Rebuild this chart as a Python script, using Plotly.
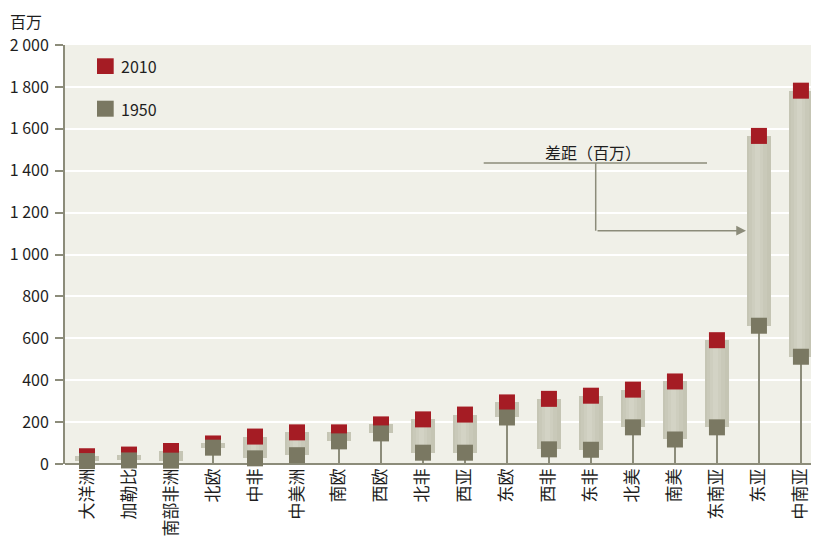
import plotly.graph_objects as go

regions = ["大洋洲", "加勒比", "南部非洲", "北欧", "中非", "中美洲", "南欧", "西欧", "北非",
           "西亚", "东欧", "西非", "东非", "北美", "南美", "东南亚", "东亚", "中南亚"]
pop_1950 = [14, 17, 16, 78, 27, 42, 108, 146, 54, 54, 222, 70, 68, 175, 117, 175, 660, 512]
pop_2010 = [37, 45, 62, 98, 131, 151, 151, 189, 213, 236, 294, 311, 326, 355, 394, 591, 1566, 1782]
ytick_vals = [0, 200, 400, 600, 800, 1000, 1200, 1400, 1600, 1800, 2000]
ytick_text = ["0", "200", "400", "600", "800", "1 000", "1 200", "1 400", "1 600", "1 800", "2 000"]

# the page body has an 8px margin, so the figure is drawn at (8, 8) in the window
OFF = 8
W, H = 819 - OFF, 544 - OFF
ML, MR, MT, MB = 65 - OFF, 0, 45 - OFF, 80
PW, PH = W - ML - MR, H - MT - MB

def px(xp):  # window pixel x -> paper
    return (xp - OFF - ML) / PW

def py(yp):  # window pixel y -> paper
    return (H - MB - (yp - OFF)) / PH

RED = "#A51C24"
DARK = "#7A7862"
AXIS = "#8C8C7A"
BG = "#F0F0E8"
FONT = "Noto Sans CJK SC"
TXT = "#1E1E1E"

x_idx = list(range(len(regions)))
gap = [b - a for a, b in zip(pop_1950, pop_2010)]

fig = go.Figure()

# stems from zero to the 1950 value
fig.add_trace(go.Bar(x=x_idx, y=pop_1950, base=0, width=0.035,
                     marker=dict(color=AXIS, line=dict(width=0)), hoverinfo="skip"))

# gap bars with a cylinder-like shading
for w, c, off in [(0.57, "#C5C5B4", 0.0), (0.42, "#C9C9B9", -0.02), (0.26, "#CECEBF", -0.03), (0.12, "#D3D3C5", -0.03)]:
    fig.add_trace(go.Bar(x=[i + off for i in x_idx], y=gap, base=pop_1950, width=w,
                         marker=dict(color=c, line=dict(width=0)), hoverinfo="skip"))

fig.add_trace(go.Scatter(x=x_idx, y=pop_2010, mode="markers", name="2010",
                         marker=dict(symbol="square", size=16, color=RED, line=dict(width=0)),
                         cliponaxis=False, hoverinfo="skip"))
fig.add_trace(go.Scatter(x=x_idx, y=pop_1950, mode="markers", name="1950",
                         marker=dict(symbol="square", size=16, color=DARK, line=dict(width=0)),
                         cliponaxis=False, hoverinfo="skip"))

shapes = []
annotations = []

# manual legend
for (y_top, y_bot, col, label, ty) in [(58.3, 74.0, RED, "2010", 66), (100.7, 116.7, DARK, "1950", 109)]:
    shapes.append(dict(type="rect", xref="paper", yref="paper",
                       x0=px(97), x1=px(113.7), y0=py(y_bot), y1=py(y_top),
                       fillcolor=col, line=dict(width=0), layer="above"))
    annotations.append(dict(text=label, xref="paper", yref="paper", x=px(119), y=py(ty),
                            xanchor="left", yanchor="middle", showarrow=False,
                            font=dict(family=FONT, size=16, color=TXT)))

# y-axis unit label
annotations.append(dict(text="百万", xref="paper", yref="paper", x=px(8), y=py(21),
                        xanchor="left", yanchor="middle", showarrow=False,
                        font=dict(family=FONT, size=16, color=TXT)))

# gap callout
shapes.append(dict(type="line", xref="paper", yref="paper", x0=px(483.7), x1=px(707),
                   y0=py(163), y1=py(163), line=dict(color=AXIS, width=1.5)))
shapes.append(dict(type="line", xref="paper", yref="paper", x0=px(595.7), x1=px(595.7),
                   y0=py(163), y1=py(230.7), line=dict(color=AXIS, width=1.5)))
annotations.append(dict(text="", xref="paper", yref="paper", x=px(746), y=py(230.7),
                        ax=-150, ay=0, showarrow=True, arrowhead=2, arrowsize=1.3,
                        arrowwidth=1.5, arrowcolor=AXIS))
annotations.append(dict(text="差距（百万）", xref="paper", yref="paper", x=px(593), y=py(152),
                        xanchor="center", yanchor="middle", showarrow=False,
                        font=dict(family=FONT, size=16, color=TXT)))

fig.update_layout(
    width=W, height=H,
    margin=dict(l=ML, r=MR, t=MT, b=MB, pad=0),
    paper_bgcolor="white", plot_bgcolor=BG,
    barmode="overlay", bargap=0,
    showlegend=False,
    font=dict(family=FONT, size=16, color=TXT),
    shapes=shapes, annotations=annotations,
    xaxis=dict(range=[-0.524, 17.43], tickvals=x_idx, ticktext=regions, tickangle=-90,
               showgrid=False, zeroline=False, showline=False, ticks="",
               tickfont=dict(family=FONT, size=17, color=TXT), fixedrange=True),
    yaxis=dict(range=[0, 2000], tickvals=ytick_vals, ticktext=ytick_text,
               showgrid=True, gridcolor="white", gridwidth=2, zeroline=True,
               zerolinecolor=AXIS, zerolinewidth=2,
               showline=True, linecolor=AXIS, linewidth=2, ticks="outside", ticklen=8,
               tickcolor=AXIS, tickwidth=1.5, ticklabelstandoff=3,
               tickfont=dict(family=FONT, size=16, color=TXT), fixedrange=True),
)

fig.write_html("out.html")
